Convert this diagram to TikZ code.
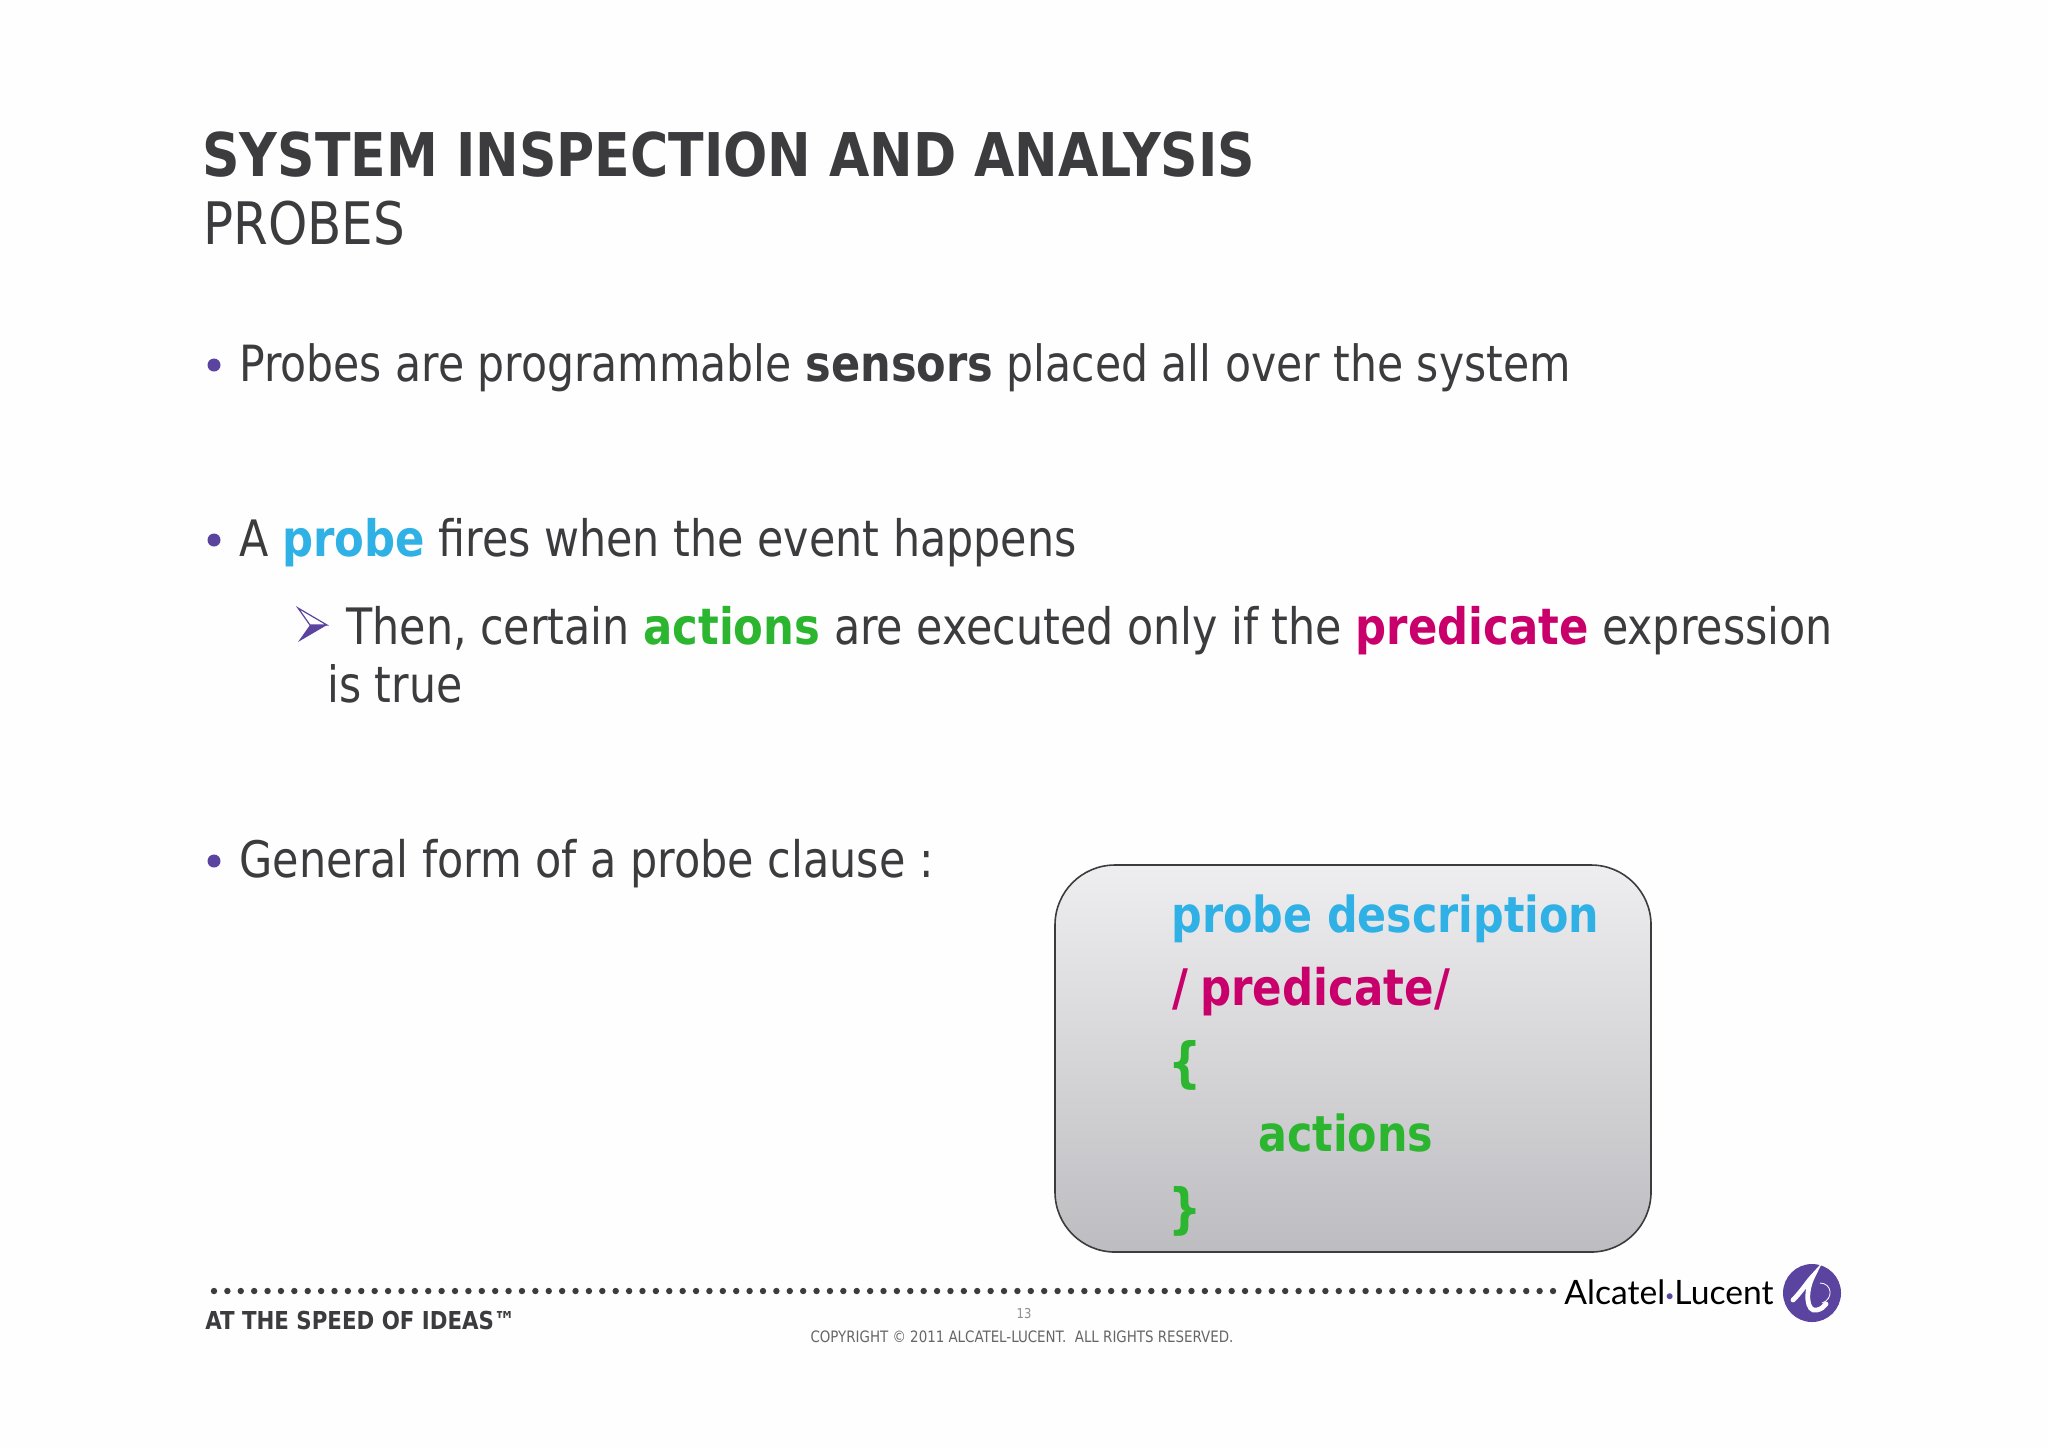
\documentclass[tikz,border=0pt]{standalone}
\usepackage{fontspec}
\setmainfont[FakeStretch=0.948,BoldFeatures={FakeStretch=0.96}]{DejaVu Sans Condensed}
\newfontfamily\logofont{Lato}
\definecolor{slidetext}{HTML}{3C3C3E}
\definecolor{probeblue}{HTML}{2FB1E6}
\definecolor{predpink}{HTML}{C9006B}
\definecolor{actgreen}{HTML}{2CB52F}
\definecolor{alupurple}{HTML}{5B44A0}
\definecolor{boxtop}{HTML}{EEEEF0}
\definecolor{boxbottom}{HTML}{BDBCC0}
\newcommand{\kwprobe}[1]{\textcolor{probeblue}{\textbf{#1}}}
\newcommand{\kwpred}[1]{\textcolor{predpink}{\textbf{#1}}}
\newcommand{\kwact}[1]{\textcolor{actgreen}{\textbf{#1}}}

\begin{document}
\begin{tikzpicture}[x=0.5pt,y=-0.5pt,
	txt/.style={anchor=base west,inner sep=0pt,text=slidetext,font=\fontsize{25}{30}\selectfont},
	boxtxt/.style={anchor=base west,inner sep=0pt,font=\fontsize{24.8}{30}\selectfont\bfseries},
	bracetxt/.style={anchor=base west,inner sep=0pt,text=actgreen,font=\fontsize{27}{30}\selectfont\bfseries},
	bullet/.style={circle,fill=alupurple,inner sep=0pt,minimum size=6.5pt}]
	\useasboundingbox[fill=white!99.5!black] (0,0) rectangle (2048,1447);

	\node[txt,font=\fontsize{30.15}{36}\selectfont\bfseries] (title) at (202,176) {SYSTEM INSPECTION AND ANALYSIS};
	\node[txt,font=\fontsize{29.3}{34}\selectfont] (subtitle) at (203,244) {PROBES};

	\node[bullet] (b1) at (214,365) {};
	\node[txt,font=\fontsize{24.95}{30}\selectfont] (sensors) at (239,381) {Probes are programmable \textbf{sensors} placed all over the system};
	\node[bullet] (b2) at (214,540) {};
	\node[txt,font=\fontsize{25.1}{30}\selectfont] (fires) at (239,556) {A \kwprobe{probe} fires when the event happens};
	\fill[alupurple] (298,642) -- (327,625) -- (310,625) -- cycle;
	\draw[alupurple,line width=0.6pt] (298,608) -- (327,625) -- (310,625) -- cycle;
	\node[txt,font=\fontsize{25.1}{30}\selectfont] (then) at (346,644) {Then, certain \kwact{actions} are executed only if the \kwpred{predicate} expression};
	\node[txt] (istrue) at (327,702) {is true};
	\node[bullet] (b3) at (214,861) {};
	\node[txt,font=\fontsize{25.15}{30}\selectfont] (form) at (239,877) {General form of a probe clause :};

	\draw[draw=slidetext,line width=0.8pt,rounded corners=30pt,top color=boxtop,bottom color=boxbottom] (1055,865) rectangle (1651,1252);
	\node[boxtxt,text=probeblue] (desc) at (1171,932) {probe description};
	\node[boxtxt,text=predpink,font=\fontsize{25.2}{30}\selectfont\bfseries] (pred) at (1172,1005) {/\hspace{6pt}predicate/};
	\node[bracetxt] (open) at (1168,1081) {\{};
	\node[boxtxt,text=actgreen] (act) at (1258,1151) {actions};
	\node[bracetxt] (close) at (1168,1227) {\}};

	\foreach \i in {0,...,100}
		\fill[slidetext] (214+13.39*\i,1291) circle (1.6pt);
	\node[txt,font=\fontsize{12.35}{15}\selectfont\bfseries] (speed) at (205,1329) {AT THE SPEED OF IDEAS™};
	\node[anchor=base,inner sep=0pt,text=black!45,font=\fontsize{6.8}{8}\selectfont] (page) at (1024,1318) {13};
	\node[anchor=base,inner sep=0pt,text=black!60,font=\fontsize{7.86}{9}\selectfont] (copy) at (1022,1342) {COPYRIGHT © 2011 ALCATEL-LUCENT.\ \ ALL RIGHTS RESERVED.};

	\node[anchor=base west,inner sep=0pt,text=black,font=\logofont\fontsize{16.8}{20}\selectfont] (alu) at (1564,1304) {Alcatel\textcolor{alupurple}{\fontsize{8}{8}\selectfont\raisebox{0.35ex}{•}}Lucent};
	\node[circle,fill=alupurple,inner sep=0pt,minimum size=29pt] (logo) at (1812,1293) {};
	\draw[white,line width=2.4pt,line cap=round] (1793,1300) .. controls (1802,1291) and (1808,1281) .. (1813,1276) .. controls (1805,1291) and (1806,1313) .. (1817,1310) .. controls (1821,1309) and (1824,1307) .. (1826,1304);
	\draw[white,line width=0.4pt] (1820,1283) .. controls (1832,1283) and (1834,1299) .. (1822,1303);
\end{tikzpicture}
\end{document}
